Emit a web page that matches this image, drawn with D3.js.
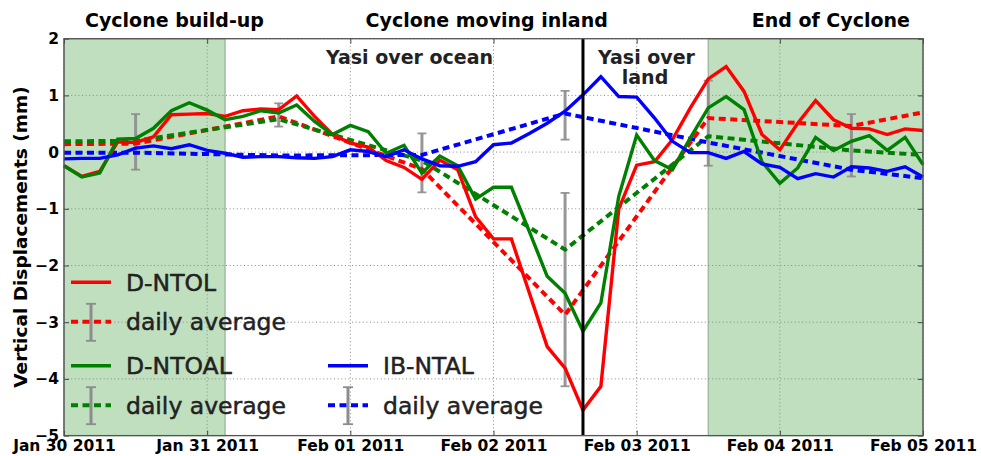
<!DOCTYPE html>
<html><head><meta charset="utf-8">
<script src="https://cdn.jsdelivr.net/npm/d3@7"></script>
<style>
html,body{margin:0;padding:0;background:#fff;}
svg{display:block;font-family:"DejaVu Sans",sans-serif;}
</style></head>
<body><svg id="chart" width="981" height="456"></svg>
<script>
// ---- data (3-hourly samples, Jan 30 00:00 UTC -> Feb 05 00:00 UTC) ----
const startTime = "2011-01-30T00:00:00Z";
const stepHours = 3;
const ntol = [-0.24,-0.43,-0.34,0.18,0.17,0.27,0.66,0.67,0.68,0.63,0.73,0.76,0.75,0.99,0.63,0.31,0.16,0.09,-0.15,-0.27,-0.48,-0.14,-0.31,-1.14,-1.53,-1.53,-2.48,-3.43,-3.81,-4.55,-4.13,-1.0,-0.23,-0.17,0.22,0.78,1.29,1.51,1.07,0.31,0.04,0.51,0.91,0.57,0.42,0.41,0.31,0.41,0.38];
const ntoal = [-0.24,-0.44,-0.37,0.23,0.24,0.42,0.73,0.87,0.74,0.57,0.63,0.73,0.69,0.83,0.54,0.31,0.47,0.36,-0.02,0.12,-0.37,-0.07,-0.24,-0.83,-0.62,-0.62,-1.4,-2.19,-2.49,-3.16,-2.66,-0.78,0.3,-0.15,-0.31,0.25,0.78,0.98,0.75,-0.17,-0.55,-0.28,0.26,0.03,0.19,0.29,0.03,0.26,-0.22];
const ibntal = [-0.12,-0.11,-0.11,-0.05,0.07,0.11,0.06,0.13,0.03,-0.02,-0.09,-0.08,-0.08,-0.1,-0.11,-0.08,0.04,0.01,-0.08,0.04,-0.12,-0.24,-0.25,-0.17,0.13,0.16,0.33,0.51,0.72,1.01,1.33,0.98,0.97,0.6,0.19,-0.01,-0.01,-0.11,0.01,-0.21,-0.27,-0.47,-0.38,-0.44,-0.26,-0.28,-0.34,-0.26,-0.44];

// daily averages
const avgTimes = ["2011-01-30T00:00:00Z","2011-01-30T12:00:00Z","2011-01-31T12:00:00Z","2011-02-01T12:00:00Z","2011-02-02T12:00:00Z","2011-02-03T12:00:00Z","2011-02-04T12:00:00Z","2011-02-05T00:00:00Z"];
const ntolAvg  = [0.14,0.15,0.63,-0.3,-2.87,0.6,0.46,0.7];
const ntoalAvg = [0.19,0.2,0.58,-0.15,-1.72,0.28,0.03,-0.05];
const ibAvg    = [-0.01,-0.01,-0.06,-0.05,0.68,0.17,-0.31,-0.46];

// error bars (gray)
const errTimes = ["2011-01-30T12:00:00Z","2011-01-31T12:00:00Z","2011-02-01T12:00:00Z","2011-02-02T12:00:00Z","2011-02-02T12:00:00Z","2011-02-03T12:00:00Z","2011-02-04T12:00:00Z"];
const errLo = [-0.31,0.45,-0.71,-4.13,0.22,-0.24,-0.43];
const errHi = [0.67,0.86,0.33,-0.72,1.08,1.26,0.67];

// phases
const shadeStart = ["2011-01-30T00:00:00Z","2011-02-03T12:00:00Z"];
const shadeEnd   = ["2011-01-31T03:00:00Z","2011-02-05T00:00:00Z"];
const landfall = "2011-02-02T15:00:00Z";
const phaseTitles = ["Cyclone build-up","Cyclone moving inland","End of Cyclone"];
const yTicks = [-5,-4,-3,-2,-1,0,1,2];
const seriesNames = ["D-NTOL","D-NTOAL","IB-NTAL"];
const avgLabel = "daily average";
const yLabel = "Vertical Displacements (mm)";

// ---- drawing ----
const svg = d3.select("#chart");
const L = 64, R = 923, T = 38.7, B = 435.6;
const t0 = new Date(startTime);
const x = d3.scaleUtc().domain([t0, new Date("2011-02-05T00:00:00Z")]).range([L, R]);
const y = d3.scaleLinear().domain([-5, 2]).range([B, T]);
const tAt = i => new Date(t0.getTime() + i * stepHours * 3600e3);

// shading
shadeStart.forEach((s, i) => {
  svg.append("rect")
    .attr("x", x(new Date(s))).attr("y", T)
    .attr("width", x(new Date(shadeEnd[i])) - x(new Date(s))).attr("height", B - T)
    .attr("fill", "#bfdfbf").attr("stroke", "#98ae98").attr("stroke-width", 1.2);
});

// grid
const xTicks = x.ticks(d3.utcDay.every(1));
const grid = svg.append("g").attr("stroke", "#8a8a8a").attr("stroke-width", 1).attr("stroke-dasharray", "1,2.6");
xTicks.forEach(t => grid.append("line").attr("x1", x(t)).attr("x2", x(t)).attr("y1", T).attr("y2", B));
yTicks.forEach(v => grid.append("line").attr("x1", L).attr("x2", R).attr("y1", y(v)).attr("y2", y(v)));

// axes
const fmt = d3.utcFormat("%b %d %Y");
const ax = svg.append("g").attr("transform", `translate(0,${B})`)
  .call(d3.axisBottom(x).tickValues(xTicks).tickFormat(fmt).tickSizeInner(-5).tickSizeOuter(0).tickPadding(4));
const ay = svg.append("g").attr("transform", `translate(${L},0)`)
  .call(d3.axisLeft(y).tickValues(yTicks).tickFormat(d3.format("d")).tickSizeInner(-5).tickSizeOuter(0).tickPadding(5));
const axT = svg.append("g").attr("transform", `translate(0,${T})`)
  .call(d3.axisTop(x).tickValues(xTicks).tickFormat("").tickSizeInner(-5).tickSizeOuter(0));
const ayR = svg.append("g").attr("transform", `translate(${R},0)`)
  .call(d3.axisRight(y).tickValues(yTicks).tickFormat("").tickSizeInner(-5).tickSizeOuter(0));
[ax, ay, axT, ayR].forEach(g => {
  g.select(".domain").remove();
  g.selectAll("line").attr("stroke", "#444");
  g.selectAll("text").attr("font-family", "DejaVu Sans").attr("font-weight", "bold").attr("font-size", 15.5).attr("fill", "#000");
});

// error bars
const err = svg.append("g").attr("stroke", "#8c8c8c").attr("stroke-opacity", 0.9);
errTimes.forEach((t, i) => {
  const cx = x(new Date(t));
  err.append("line").attr("x1", cx).attr("x2", cx).attr("y1", y(errLo[i])).attr("y2", y(errHi[i])).attr("stroke-width", 3);
  [errLo[i], errHi[i]].forEach(v => err.append("line").attr("x1", cx - 4.5).attr("x2", cx + 4.5).attr("y1", y(v)).attr("y2", y(v)).attr("stroke-width", 1.8));
});

// daily average lines
const avgLine = d3.line().x((d, i) => x(new Date(avgTimes[i]))).y(d => y(d));
[[ntolAvg, "#ff0000"], [ntoalAvg, "#008000"], [ibAvg, "#0000ff"]].forEach(([arr, c]) => {
  svg.append("path").attr("d", avgLine(arr)).attr("fill", "none").attr("stroke", c)
    .attr("stroke-width", 4).attr("stroke-dasharray", "7,4.5");
});

// series lines
const line = d3.line().x((d, i) => x(tAt(i))).y(d => y(d));
[[ntol, "#ff0000"], [ntoal, "#008000"], [ibntal, "#0000ff"]].forEach(([arr, c]) => {
  svg.append("path").attr("d", line(arr)).attr("fill", "none").attr("stroke", c)
    .attr("stroke-width", 3.4).attr("stroke-linejoin", "miter");
});

// landfall line
svg.append("line").attr("x1", x(new Date(landfall))).attr("x2", x(new Date(landfall)))
  .attr("y1", T).attr("y2", B).attr("stroke", "#000").attr("stroke-width", 3);

// frame
svg.append("rect").attr("x", L).attr("y", T).attr("width", R - L).attr("height", B - T)
  .attr("fill", "none").attr("stroke", "#555").attr("stroke-width", 1.3);

// titles
const titleX = [174.5, 486.7, 830.8];
phaseTitles.forEach((s, i) => svg.append("text").attr("x", titleX[i]).attr("y", 27)
  .attr("text-anchor", "middle").attr("font-weight", "bold").attr("font-size", 19).attr("fill", "#000").text(s));

// annotations
const ann = svg.append("g").attr("font-weight", "bold").attr("font-size", 19).attr("fill", "#222").attr("text-anchor", "middle");
ann.append("text").attr("x", 409.5).attr("y", 64).text("Yasi over ocean");
ann.append("text").attr("x", 646.5).attr("y", 64).text("Yasi over");
ann.append("text").attr("x", 645).attr("y", 83.5).text("land");

// y label
svg.append("text").attr("transform", "translate(27,237) rotate(-90)").attr("text-anchor", "middle")
  .attr("font-weight", "bold").attr("font-size", 18.5).attr("fill", "#000").text(yLabel);

// legend
const leg = svg.append("g");
const colors = ["#ff0000", "#008000", "#0000ff"];
const legPos = [[71, 282.3], [71, 365.7], [328, 365.7]];
legPos.forEach(([lx, ly], i) => {
  leg.append("line").attr("x1", lx).attr("x2", lx + 40).attr("y1", ly).attr("y2", ly).attr("stroke", colors[i]).attr("stroke-width", 3.4);
  leg.append("text").attr("x", lx + 55).attr("y", ly + 8.5).attr("font-size", 23.5).attr("fill", "#222")
    .attr("stroke", "#222").attr("stroke-width", 0.5).text(seriesNames[i]);
  const ly2 = ly + 39.5;
  const cx = lx + 20;
  leg.append("line").attr("x1", cx).attr("x2", cx).attr("y1", ly2 - 18).attr("y2", ly2 + 19).attr("stroke", "#8c8c8c").attr("stroke-width", 3);
  [ly2 - 18, ly2 + 19].forEach(v => leg.append("line").attr("x1", cx - 5).attr("x2", cx + 5).attr("y1", v).attr("y2", v).attr("stroke", "#8c8c8c").attr("stroke-width", 1.8));
  leg.append("line").attr("x1", lx).attr("x2", lx + 40).attr("y1", ly2).attr("y2", ly2).attr("stroke", colors[i]).attr("stroke-width", 4).attr("stroke-dasharray", "7,4.5");
  leg.append("text").attr("x", lx + 55).attr("y", ly2 + 8.5).attr("font-size", 23.5).attr("fill", "#222")
    .attr("stroke", "#222").attr("stroke-width", 0.5).text(avgLabel);
});
</script></body></html>
